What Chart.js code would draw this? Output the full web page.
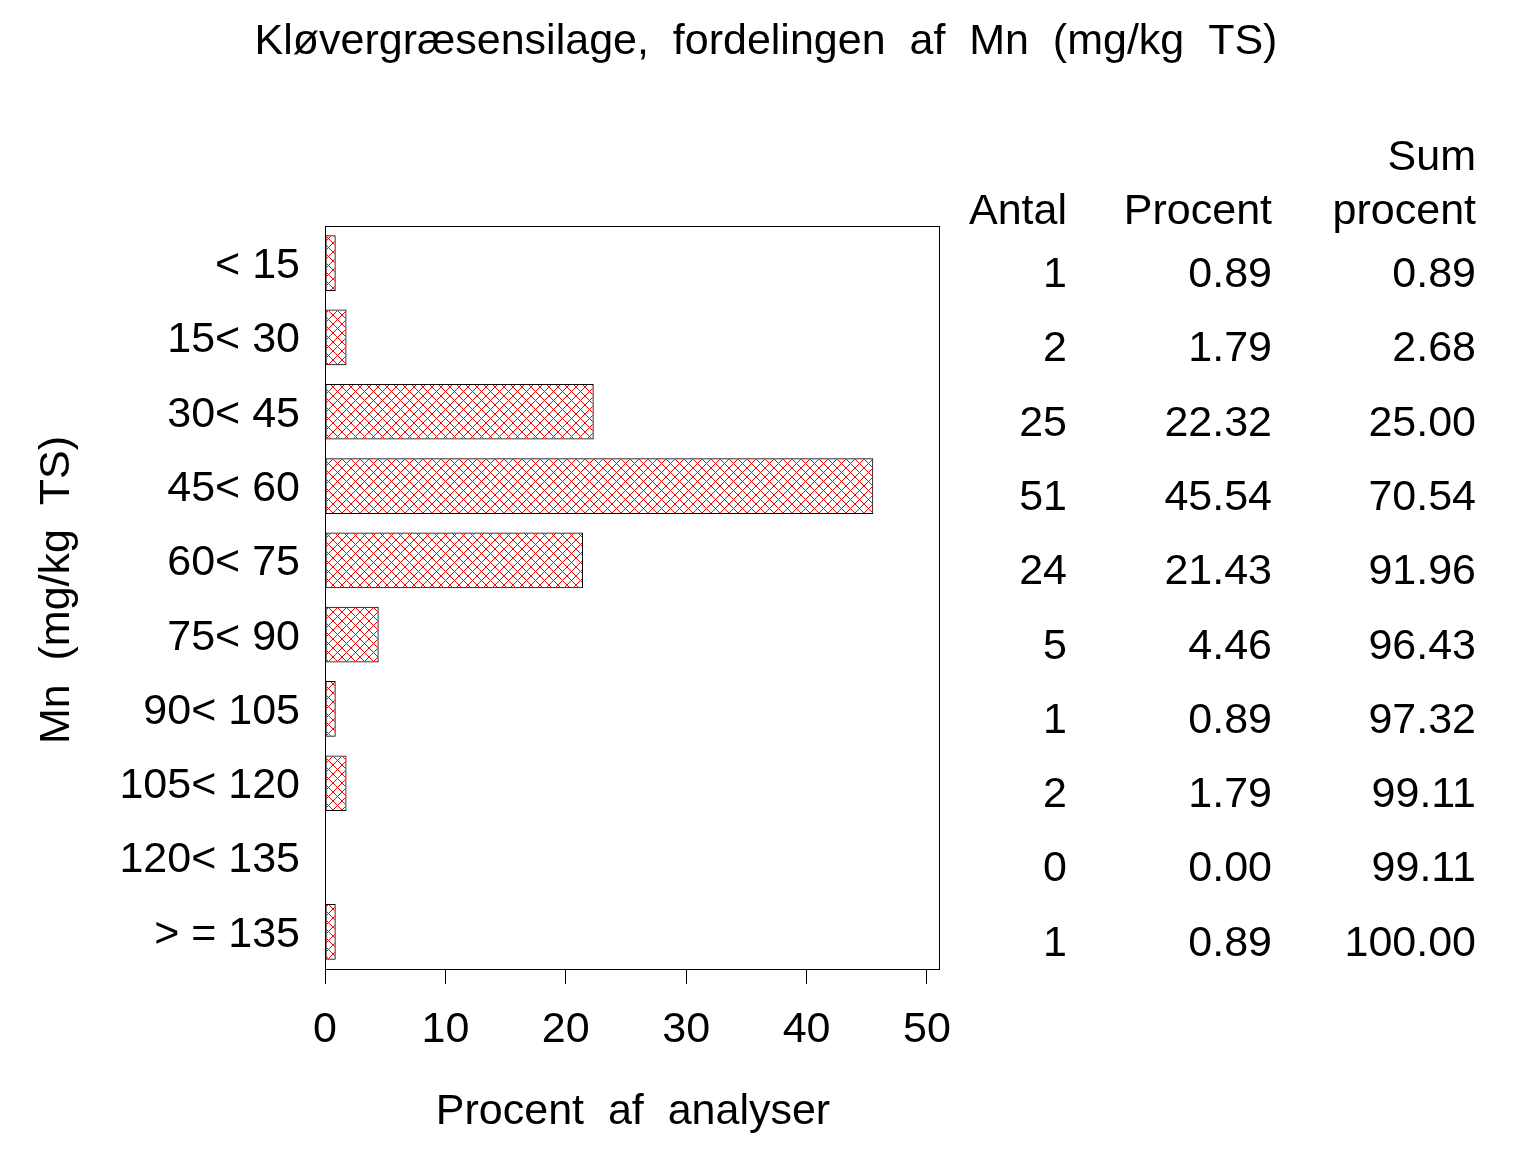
<!DOCTYPE html>
<html>
<head>
<meta charset="utf-8">
<script src="https://cdn.jsdelivr.net/npm/chart.js@4.4.0/dist/chart.umd.min.js"></script>
<style>
  body { margin: 0; background: #fff; }
  canvas { display: block; }
</style>
</head>
<body>
<canvas id="myChart" width="1536" height="1152"></canvas>
<script>
// data
var categories = ['< 15', '15< 30', '30< 45', '45< 60', '60< 75', '75< 90', '90< 105', '105< 120', '120< 135', '> = 135'];
var antal = [1, 2, 25, 51, 24, 5, 1, 2, 0, 1];
var procent = [0.89, 1.79, 22.32, 45.54, 21.43, 4.46, 0.89, 1.79, 0.00, 0.89];
var sumProcent = [0.89, 2.68, 25.00, 70.54, 91.96, 96.43, 97.32, 99.11, 99.11, 100.00];
var xTicks = [0, 10, 20, 30, 40, 50];

var FAMILY = '"Liberation Sans", Arial, sans-serif';
var FONT = '43px ' + FAMILY;

function hatch() {
    var c = document.createElement('canvas');
    c.width = 9; c.height = 9;
    var g = c.getContext('2d');
    g.strokeStyle = '#ff0000';
    g.lineWidth = 1;
    g.beginPath();
    g.moveTo(0, 0); g.lineTo(9, 9);
    g.moveTo(0, 9); g.lineTo(9, 0);
    g.stroke();
    return g.createPattern(c, 'repeat');
}

var extras = {
    id: 'extras',
    afterDraw: function(chart) {
        var ctx = chart.ctx, a = chart.chartArea, y = chart.scales.y;
        ctx.save();
        ctx.strokeStyle = '#000';
        ctx.lineWidth = 1;
        ctx.strokeRect(a.left + 0.5, a.top + 0.5, a.right - a.left, a.bottom - a.top);

        ctx.fillStyle = '#000';
        ctx.font = FONT;
        ctx.textBaseline = 'middle';
        ctx.textAlign = 'center';
        ctx.fillText('Kløvergræsensilage,  fordelingen  af  Mn  (mg/kg  TS)', 766, 42);
        ctx.fillText('Procent  af  analyser', 633, 1112);

        ctx.save();
        ctx.translate(57, 590);
        ctx.rotate(-Math.PI / 2);
        ctx.fillText('Mn  (mg/kg  TS)', 0, 0);
        ctx.restore();

        // table on the right
        var cols = [1067, 1272, 1476];
        ctx.textAlign = 'right';
        ctx.fillText('Antal', cols[0], 212);
        ctx.fillText('Procent', cols[1], 212);
        ctx.fillText('Sum', cols[2], 158);
        ctx.fillText('procent', cols[2], 212);
        for (var i = 0; i < categories.length; i++) {
            var py = y.getPixelForValue(i) + 12;
            ctx.fillText(String(antal[i]), cols[0], py);
            ctx.fillText(procent[i].toFixed(2), cols[1], py);
            ctx.fillText(sumProcent[i].toFixed(2), cols[2], py);
        }
        ctx.restore();
    }
};

var ctx = document.getElementById('myChart').getContext('2d');
var chart = new Chart(ctx, {
    type: 'bar',
    data: {
        labels: categories,
        datasets: [{
            data: procent,
            backgroundColor: hatch(),
            borderColor: '#000',
            borderWidth: 1,
            borderSkipped: false,
            barPercentage: 0.75,
            categoryPercentage: 1.0
        }]
    },
    options: {
        indexAxis: 'y',
        responsive: false,
        animation: false,
        layout: { padding: { top: 226, right: 597, left: 0, bottom: 0 } },
        plugins: {
            legend: { display: false },
            title: { display: false },
            tooltip: { enabled: false }
        },
        scales: {
            x: {
                min: 0,
                max: 51,
                afterFit: function(s) { s.height = 183; },
                afterBuildTicks: function(s) {
                    s.ticks = xTicks.map(function(v) { return { value: v }; });
                },
                grid: { drawOnChartArea: false, color: '#000', tickLength: 15, tickWidth: 1 },
                border: { display: false },
                ticks: { color: '#000', font: { family: FAMILY, size: 43 }, padding: 20, maxRotation: 0 }
            },
            y: {
                afterFit: function(s) { s.width = 325; },
                grid: { display: false, drawTicks: false },
                border: { display: false },
                ticks: { color: '#000', font: { family: FAMILY, size: 43 }, padding: 25, labelOffset: 3 }
            }
        }
    },
    plugins: [extras]
});
</script>
</body>
</html>
